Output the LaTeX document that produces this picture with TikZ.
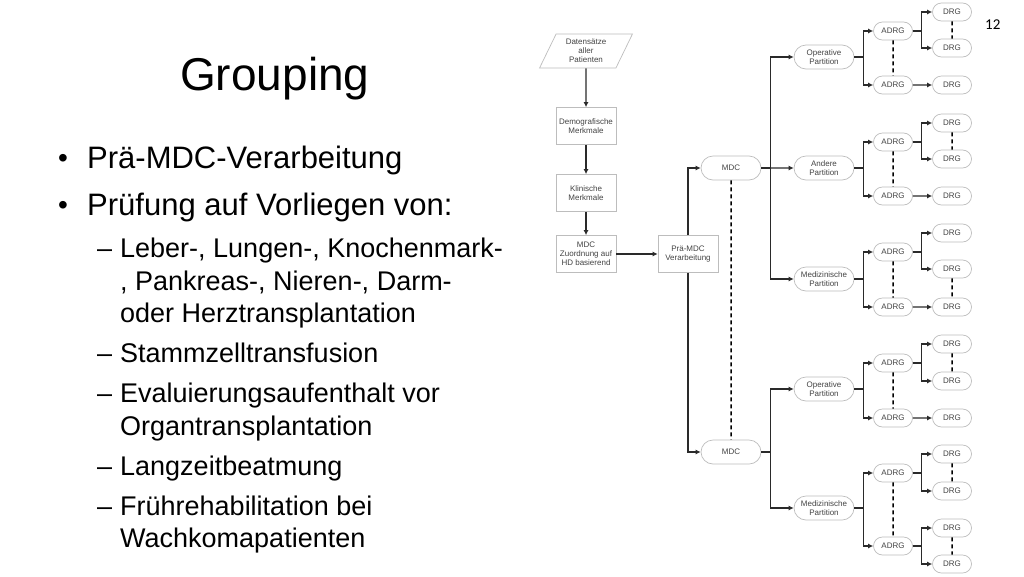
\documentclass[tikz,border=0pt]{standalone}
\usepackage{fontspec}
\setmainfont{Liberation Sans}
\newfontfamily\pagefont{Carlito}
\usepackage{tikz}
\usetikzlibrary{shapes.geometric,shapes.misc,arrows.meta}
\definecolor{edge}{HTML}{BDBDBD}
\definecolor{ink}{HTML}{444444}
\definecolor{wire}{HTML}{2A2A2A}
\tikzstyle{chart} = [draw=edge, line width=0.7pt, text=ink, font={\fontsize{8}{9.2}\selectfont}, align=center, inner sep=0pt]
\tikzstyle{box} = [chart, rectangle, minimum width=60pt, minimum height=37pt]
\tikzstyle{data} = [chart, trapezium, trapezium left angle=65, trapezium right angle=115, trapezium stretches=true, minimum width=93pt, minimum height=34pt]
\tikzstyle{pill} = [chart, rounded rectangle, minimum width=60pt, minimum height=24pt]
\tikzstyle{small} = [chart, rounded rectangle, minimum width=39pt, minimum height=18pt]
\tikzstyle{link} = [draw=wire, line width=1.2pt, ->]
\tikzstyle{sibling} = [draw=black, line width=1.5pt, dash pattern=on 4pt off 3pt]
\tikzstyle{slide} = [anchor=base west, inner sep=0pt, text=black]
\tikzstyle{big} = [slide, font={\fontsize{31}{31}\selectfont}]
\tikzstyle{sub} = [slide, font={\fontsize{27}{27}\selectfont}]
\tikzstyle{dot} = [slide, font={\fontsize{28}{28}\selectfont}]

\begin{document}
\begin{tikzpicture}[x=1pt, y=-1pt, >={Latex[length=5pt,width=5pt]}]
  \path[fill=white, use as bounding box] (0,0) rectangle (1024,576);
  % slide text
  \node[slide, font={\fontsize{46}{46}\selectfont}] (title) at (180,90) {Grouping};
  \node[slide, font={\pagefont\fontsize{15}{15}\selectfont}] (page) at (985,29) {12};
  \node[dot](m1) at (58,167) {•};
  \node[big](b1) at (87,168) {Prä-MDC-Verarbeitung};
  \node[dot](m2) at (58,214) {•};
  \node[big](b2) at (87,215) {Prüfung auf Vorliegen von:};
  \node[sub](s1) at (97,257) {–};
  \node[sub](l1) at (120,257) {Leber-, Lungen-, Knochenmark-};
  \node[sub](l2) at (120,290) {, Pankreas-, Nieren-, Darm-};
  \node[sub](l3) at (120,322) {oder Herztransplantation};
  \node[sub](s2) at (97,362) {–};
  \node[sub](l4) at (120,362) {Stammzelltransfusion};
  \node[sub](s3) at (97,402) {–};
  \node[sub](l5) at (120,402) {Evaluierungsaufenthalt vor};
  \node[sub](l6) at (120,435) {Organtransplantation};
  \node[sub](s4) at (97,475) {–};
  \node[sub](l7) at (120,475) {Langzeitbeatmung};
  \node[sub](s5) at (97,515) {–};
  \node[sub](l8) at (120,515) {Frührehabilitation bei};
  \node[sub](l9) at (120,547) {Wachkomapatienten};
  % flow chart
  \node[data](dat) at (586,51) {Datensätze\\aller\\Patienten};
  \node[box](demo) at (586,126) {Demografische\\Merkmale};
  \node[box](klin) at (586,193) {Klinische\\Merkmale};
  \node[box](zuord) at (586,254) {MDC\\Zuordnung auf\\HD basierend};
  \node[box](pra) at (688,254) {Prä-MDC\\Verarbeitung};
  \node[pill](mdcA) at (731,168) {MDC};
  \node[pill](mdcB) at (731,452) {MDC};
  \node[pill](opA) at (824,57) {Operative\\Partition};
  \node[pill](anA) at (824,168) {Andere\\Partition};
  \node[pill](meA) at (824,279) {Medizinische\\Partition};
  \node[pill](opB) at (824,389) {Operative\\Partition};
  \node[pill](meB) at (824,508) {Medizinische\\Partition};
  \node[small](a1) at (893,31) {ADRG};
  \node[small](a2) at (893,85) {ADRG};
  \node[small](a3) at (893,142) {ADRG};
  \node[small](a4) at (893,196) {ADRG};
  \node[small](a5) at (893,252) {ADRG};
  \node[small](a6) at (893,307) {ADRG};
  \node[small](a7) at (893,363) {ADRG};
  \node[small](a8) at (893,418) {ADRG};
  \node[small](a9) at (893,473) {ADRG};
  \node[small](a10) at (893,546) {ADRG};
  \node[small](d1) at (952,12) {DRG};
  \node[small](d2) at (952,48) {DRG};
  \node[small](d3) at (952,85) {DRG};
  \node[small](d4) at (952,123) {DRG};
  \node[small](d5) at (952,159) {DRG};
  \node[small](d6) at (952,196) {DRG};
  \node[small](d7) at (952,233) {DRG};
  \node[small](d8) at (952,269) {DRG};
  \node[small](d9) at (952,307) {DRG};
  \node[small](d10) at (952,344) {DRG};
  \node[small](d11) at (952,381) {DRG};
  \node[small](d12) at (952,418) {DRG};
  \node[small](d13) at (952,454) {DRG};
  \node[small](d14) at (952,491) {DRG};
  \node[small](d15) at (952,528) {DRG};
  \node[small](d16) at (952,564) {DRG};
  % connectors
  \draw[link](dat)--(demo);
  \draw[link](demo)--(klin);
  \draw[link](klin)--(zuord);
  \draw[link](zuord)--(pra);
  \draw[link](pra)|-(mdcA);
  \draw[link](pra)|-(mdcB);
  \draw[link](mdcA.east)--++(9,0)|-(opA);
  \draw[link](mdcA)--(anA);
  \draw[link](mdcA.east)--++(9,0)|-(meA);
  \draw[link](mdcB.east)--++(9,0)|-(opB);
  \draw[link](mdcB.east)--++(9,0)|-(meB);
  \draw[link](opA.east)--++(9,0)|-(a1);
  \draw[link](opA.east)--++(9,0)|-(a2);
  \draw[link](anA.east)--++(9,0)|-(a3);
  \draw[link](anA.east)--++(9,0)|-(a4);
  \draw[link](meA.east)--++(9,0)|-(a5);
  \draw[link](meA.east)--++(9,0)|-(a6);
  \draw[link](opB.east)--++(9,0)|-(a7);
  \draw[link](opB.east)--++(9,0)|-(a8);
  \draw[link](meB.east)--++(9,0)|-(a9);
  \draw[link](meB.east)--++(9,0)|-(a10);
  \draw[link](a1.east)--++(9,0)|-(d1);
  \draw[link](a1.east)--++(9,0)|-(d2);
  \draw[link](a2)--(d3);
  \draw[link](a3.east)--++(9,0)|-(d4);
  \draw[link](a3.east)--++(9,0)|-(d5);
  \draw[link](a4)--(d6);
  \draw[link](a5.east)--++(9,0)|-(d7);
  \draw[link](a5.east)--++(9,0)|-(d8);
  \draw[link](a6)--(d9);
  \draw[link](a7.east)--++(9,0)|-(d10);
  \draw[link](a7.east)--++(9,0)|-(d11);
  \draw[link](a8)--(d12);
  \draw[link](a9.east)--++(9,0)|-(d13);
  \draw[link](a9.east)--++(9,0)|-(d14);
  \draw[link](a10.east)--++(9,0)|-(d15);
  \draw[link](a10.east)--++(9,0)|-(d16);
  % same level
  \draw[sibling](mdcA)--(mdcB);
  \draw[sibling](a1)--(a2);
  \draw[sibling](a3)--(a4);
  \draw[sibling](a5)--(a6);
  \draw[sibling](a7)--(a8);
  \draw[sibling](a9)--(a10);
  \draw[sibling](d1)--(d2);
  \draw[sibling](d4)--(d5);
  \draw[sibling](d8)--(d9);
  \draw[sibling](d10)--(d11);
  \draw[sibling](d13)--(d14);
  \draw[sibling](d15)--(d16);
\end{tikzpicture}
\end{document}
